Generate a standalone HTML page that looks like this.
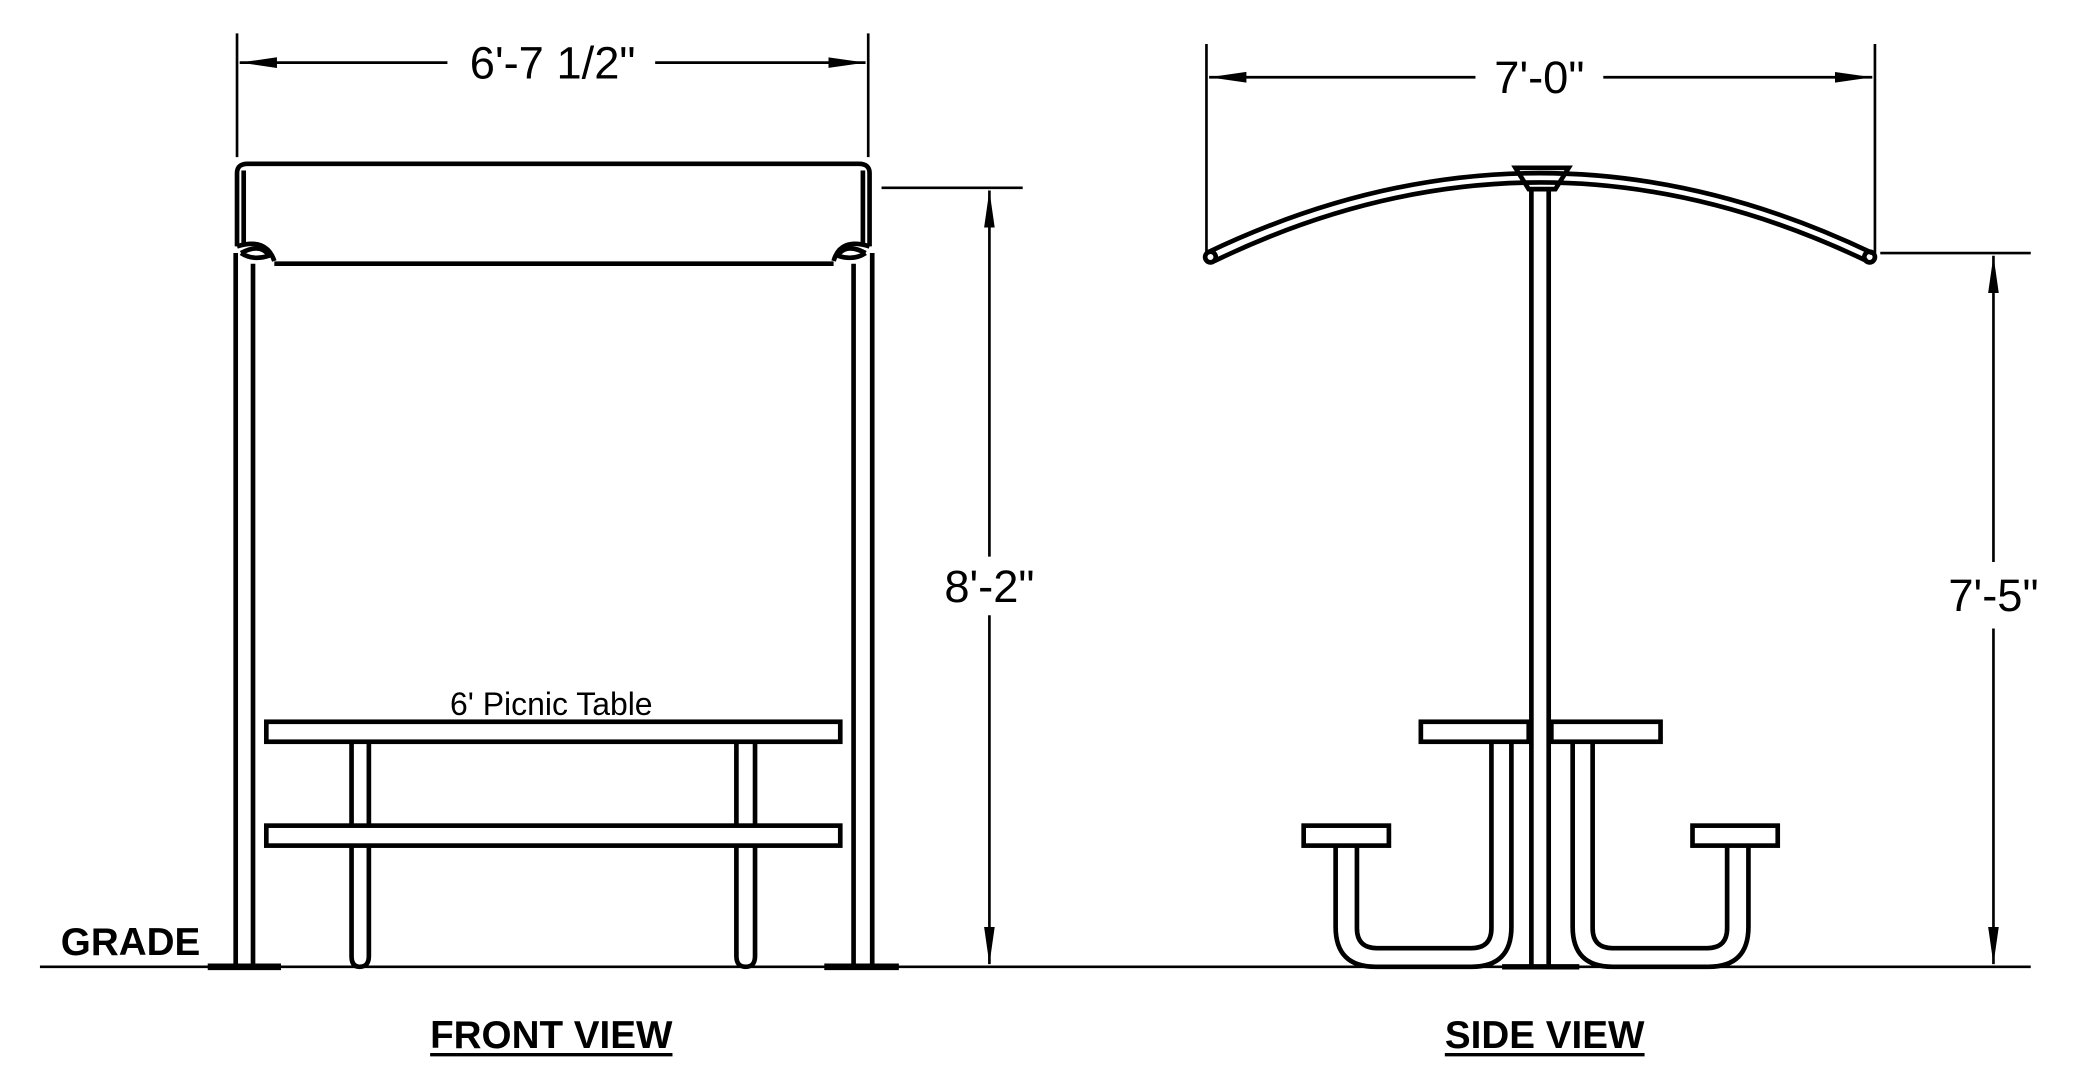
<!DOCTYPE html>
<html><head><meta charset="utf-8"><style>html,body{margin:0;padding:0;background:#fff}svg{display:block}</style></head>
<body>
<svg width="2088" height="1088" viewBox="0 0 1568 817" xmlns="http://www.w3.org/2000/svg" font-family="Liberation Sans, Arial, sans-serif">
<defs>
<marker id="a" markerWidth="28" markerHeight="10" refX="28" refY="5" orient="auto" markerUnits="userSpaceOnUse"><path d="M0,1 L28,5 L0,9 Z" fill="#000"/></marker>
</defs>
<g stroke="#000" fill="none" stroke-width="2">
<!-- FRONT dims -->
<line x1="178" y1="25" x2="178" y2="118"/><line x1="652" y1="25" x2="652" y2="118"/>
<line x1="336" y1="47" x2="180" y2="47" marker-end="url(#a)"/>
<line x1="492" y1="47" x2="650" y2="47" marker-end="url(#a)"/>
<line x1="662" y1="141" x2="768" y2="141"/>
<line x1="743" y1="418" x2="743" y2="143" marker-end="url(#a)"/>
<line x1="743" y1="462" x2="743" y2="724" marker-end="url(#a)"/>
<!-- canopy -->
<g stroke-width="3.5">
<path d="M178,185 L178,130 Q178,123 186,123 L645,123 Q653,123 653,130 L653,185"/>
<path d="M183,185 L183,128"/><path d="M648,185 L648,128"/>
<line x1="206" y1="198" x2="626" y2="198"/>
<path d="M178,185 Q200,178 206,196"/><path d="M181,190 Q196,182 202,192 Q190,196 181,190"/>
<path d="M653,185 Q631,178 626,196"/><path d="M650,190 Q635,182 629,192 Q641,196 650,190"/>
<line x1="177" y1="190" x2="177" y2="725"/><line x1="190" y1="198" x2="190" y2="725"/>
<line x1="641" y1="198" x2="641" y2="725"/><line x1="655" y1="190" x2="655" y2="725"/>
</g>
<line x1="156" y1="726" x2="211" y2="726" stroke-width="5"/>
<line x1="619" y1="726" x2="675" y2="726" stroke-width="5"/>
<!-- table front -->
<g stroke-width="3.5">
<rect x="200" y="542" width="431" height="15"/>
<rect x="200" y="620" width="431" height="15"/>
<path d="M264,557 V620 M277,557 V620 M264,635 V718 Q264,726 270,726 Q277,726 277,718 V635"/>
<path d="M553,557 V620 M567,557 V620 M553,635 V718 Q553,726 560,726 Q567,726 567,718 V635"/>
</g>
<line x1="30" y1="726" x2="1525" y2="726"/>
<!-- SIDE dims -->
<line x1="906" y1="33" x2="906" y2="190"/><line x1="1408" y1="33" x2="1408" y2="190"/>
<line x1="1108" y1="58" x2="908" y2="58" marker-end="url(#a)"/>
<line x1="1204" y1="58" x2="1406" y2="58" marker-end="url(#a)"/>
<line x1="1412" y1="190" x2="1525" y2="190"/>
<line x1="1497" y1="422" x2="1497" y2="192" marker-end="url(#a)"/>
<line x1="1497" y1="472" x2="1497" y2="724" marker-end="url(#a)"/>
<g stroke-width="3.5">
<path d="M906,190 Q1156,70 1406,190"/>
<path d="M912,196 Q1156,78 1402,196"/>
<circle cx="909" cy="193" r="4"/><circle cx="1404" cy="193" r="4"/>
<path d="M1138,126 L1178,126 L1168,142 L1148,142 Z"/>
<line x1="1150" y1="142" x2="1150" y2="725"/><line x1="1163" y1="142" x2="1163" y2="725"/>
<rect x="1067" y="542" width="81" height="15"/>
<rect x="1165" y="542" width="82" height="15"/>
<rect x="979" y="620" width="64" height="15"/>
<rect x="1271" y="620" width="64" height="15"/>
<path d="M1003,635 V696 Q1003,726 1033,726 H1105 Q1135,726 1135,696 V557"/>
<path d="M1019,635 V697 Q1019,712 1034,712 H1105 Q1120,712 1120,697 V557"/>
<path d="M1313,635 V696 Q1313,726 1283,726 H1211 Q1181,726 1181,696 V557"/>
<path d="M1297,635 V697 Q1297,712 1282,712 H1211 Q1196,712 1196,697 V557"/>
</g>
<line x1="1128" y1="726" x2="1186" y2="726" stroke-width="4"/>
</g>
<g fill="#000" text-anchor="middle">
<text x="415" y="59" font-size="34">6'-7 1/2"</text>
<text x="743" y="452" font-size="34">8'-2"</text>
<text x="414" y="537" font-size="24">6' Picnic Table</text>
<text x="98" y="717" font-size="29" font-weight="bold">GRADE</text>
<text x="414" y="787" font-size="29" font-weight="bold">FRONT VIEW</text>
<text x="1156" y="70" font-size="34">7'-0"</text>
<text x="1497" y="459" font-size="34">7'-5"</text>
<text x="1160" y="787" font-size="29" font-weight="bold">SIDE VIEW</text>
</g>
<line x1="323" y1="792" x2="505" y2="792" stroke="#000" stroke-width="2.5"/>
<line x1="1085" y1="792" x2="1235" y2="792" stroke="#000" stroke-width="2.5"/>
</svg>
</body></html>
